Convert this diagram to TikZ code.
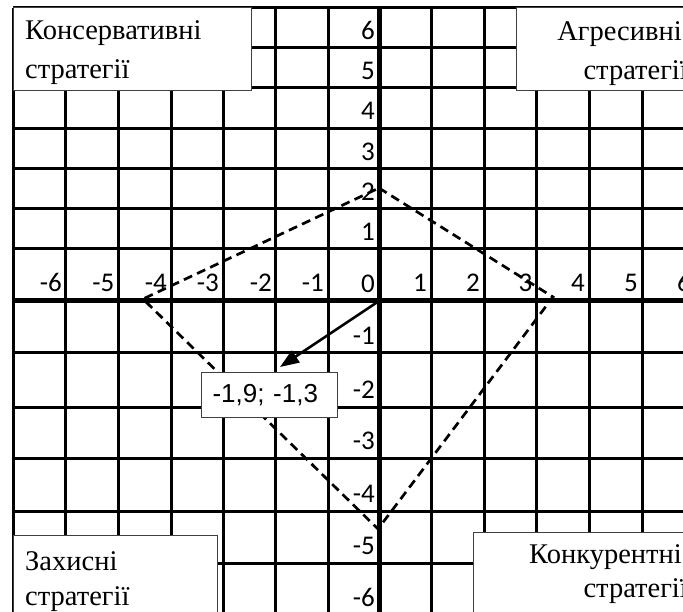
\documentclass[tikz,border=0pt]{standalone}
\usepackage{fontspec}
\setmainfont{Liberation Serif}
\newfontfamily\calibrifont{Carlito}
\newfontfamily\arialfont{Liberation Sans}
\usetikzlibrary{arrows.meta}

\tikzset{
  gridline/.style={line width=3pt},
  axisline/.style={line width=5pt},
  axlabel/.style={inner sep=0pt, font=\calibrifont\fontsize{27}{27}\selectfont},
  zone/.style={draw=black!75, line width=1pt, fill=white, inner sep=0pt},
  zonetext/.style={inner sep=0pt, font=\fontsize{28.5}{39}\selectfont},
  hull/.style={line width=2.7pt, dash pattern=on 9pt off 5.5pt},
  vector/.style={line width=2.5pt, -{Triangle[length=19pt,width=14pt]}}
}

\begin{document}
\begin{tikzpicture}[x=1pt, y=-1pt]
    \useasboundingbox (0,0) rectangle (683,612);
    \clip (0,0) rectangle (683,612);
    % Grid
    \foreach \x in {13, 65.5, 118.5, 171, 223, 275.5, 328, 431, 484, 536.5, 589, 642}
        \draw [gridline] (\x,8) -- (\x,620);
    \foreach \y in {8, 48, 88, 128.5, 169, 209, 249, 353, 407, 458, 511, 563}
        \draw [gridline] (13,\y) -- (700,\y);
    % Axes
    \draw [axisline] (379,8) -- (379,620);
    \draw [axisline] (13,301) -- (700,301);
    % Axis labels
    \foreach \v/\x in {-6/66, -5/118.5, -4/171, -3/223, -2/276, -1/328, 1/431, 2/484, 3/536.5, 4/589, 5/642, 6/695}
        \node [axlabel, anchor=base east] (x\v) at (\x-4,292) {\v};
    \foreach \v/\y in {6/48, 5/88, 4/128.5, 3/169, 2/209, 1/249, 0/301, -1/353, -2/407, -3/458, -4/511, -5/563, -6/615}
        \node [axlabel, anchor=base east] (y\v) at (375,\y-8.5) {\v};
    % Strategy area
    \coordinate (top) at (379,188);
    \coordinate (right) at (553,297);
    \coordinate (bot) at (378,529);
    \coordinate (left) at (143,299);
    \draw [hull] (top) -- (right) -- (bot) -- (left) -- cycle;
    % Position vector
    \coordinate (o) at (379,301);
    \coordinate (tip) at (280,367);
    \draw [vector] (o) -- (tip);
    \node [zone, font=\arialfont\fontsize{26}{26}\selectfont, text width=114pt, align=left,
           inner xsep=11pt, minimum height=44pt, anchor=west] (point) at (201,395) {-1,9; -1,3};
    % Quadrant boxes
    \node [zone, minimum width=238pt, minimum height=83pt, anchor=north west] (konsbox) at (13,7) {};
    \node [zonetext, anchor=base west, align=left] (kons) at (25,79) {Консервативні\\стратегії};
    \node [zone, minimum width=190pt, minimum height=83pt, anchor=north west] (agrbox) at (516,7) {};
    \node [zonetext, anchor=base east, align=right] (agr) at (688,80) {Агресивні\kern6pt\\стратегії};
    \node [zone, minimum width=204pt, minimum height=90pt, anchor=north west] (zakhbox) at (13,535) {};
    \node [zonetext, font=\fontsize{28.5}{35}\selectfont, anchor=base west, align=left] (zakh) at (25,605) {Захисні\\стратегії};
    \node [zone, minimum width=230pt, minimum height=90pt, anchor=north west] (konkbox) at (473,532) {};
    \node [zonetext, font=\fontsize{28.5}{34}\selectfont, anchor=base east, align=right] (konk) at (688,597) {Конкурентні\kern6pt\\стратегії};
\end{tikzpicture}
\end{document}
